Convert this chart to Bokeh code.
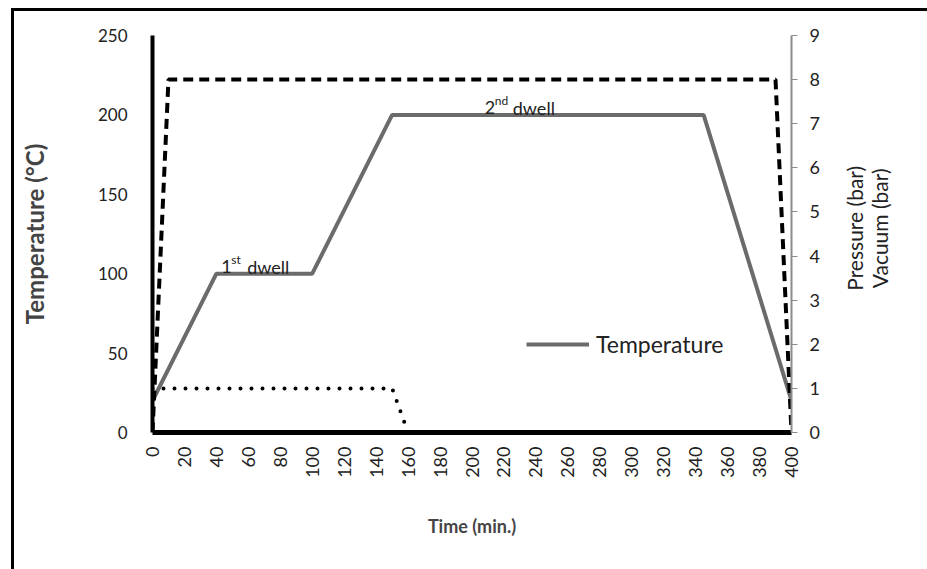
import math
from bokeh.plotting import figure
from bokeh.layouts import row
from bokeh.models import (Range1d, LinearAxis, FixedTicker, Legend, LegendItem, Label)
from bokeh.core.properties import value
from bokeh.embed import file_html
from bokeh.resources import INLINE

# Cure cycle profile
temp_time = [0, 40, 100, 150, 345, 400]
temp_c = [20, 100, 100, 200, 200, 20]

pressure_time = [0, 10, 390, 400]
pressure_bar = [0, 8, 8, 0]

vacuum_time = [0, 150, 160]
vacuum_bar = [1, 1, 0]

x_ticks = list(range(0, 401, 20))
temp_ticks = [0, 50, 100, 150, 200, 250]
bar_ticks = list(range(0, 10))

right_titles = ["Pressure (bar)", "Vacuum (bar)"]

FONT = "Lato"
TXT = "#222222"
H = 558
SIDE_W = 92

p = figure(width=821, height=H, output_backend="svg", toolbar_location=None,
           x_range=Range1d(0, 400), y_range=Range1d(0, 250),
           min_border_left=138, min_border_right=44, min_border_top=24, min_border_bottom=137)
p.outline_line_color = None
p.grid.grid_line_color = None
p.background_fill_color = "white"
p.border_fill_color = "white"

p.extra_y_ranges = {"bar": Range1d(0, 9)}

# Bottom axis: time
xa = p.xaxis[0]
xa.ticker = FixedTicker(ticks=x_ticks)
xa.major_label_orientation = math.pi / 2
xa.axis_line_color = "black"
xa.axis_line_width = 5
xa.major_tick_line_color = None
xa.minor_tick_line_color = None
xa.major_label_text_font = FONT
xa.major_label_text_font_size = "18px"
xa.major_label_text_color = TXT
xa.major_label_standoff = 8
xa.axis_label = "Time (min.)"
xa.axis_label_text_font = FONT
xa.axis_label_text_font_style = "bold"
xa.axis_label_text_font_size = "18px"
xa.axis_label_standoff = 34

# Left axis: temperature
ya = p.yaxis[0]
ya.ticker = FixedTicker(ticks=temp_ticks)
ya.axis_line_color = "black"
ya.axis_line_width = 4
ya.major_tick_line_color = None
ya.minor_tick_line_color = None
ya.major_label_text_font = FONT
ya.major_label_text_font_size = "17px"
ya.major_label_text_color = TXT
ya.major_label_standoff = 19
ya.axis_label = "Temperature (°C)"
ya.axis_label_text_font = FONT
ya.axis_label_text_font_style = "bold"
ya.axis_label_text_font_size = "24px"
ya.axis_label_standoff = 46

# Right axis: pressure / vacuum
ra = LinearAxis(y_range_name="bar", ticker=FixedTicker(ticks=bar_ticks))
ra.axis_line_color = "#8c8c8c"
ra.axis_line_width = 2
ra.major_tick_line_color = "#8c8c8c"
ra.major_tick_line_width = 1
ra.major_tick_in = 0
ra.major_tick_out = 6
ra.minor_tick_line_color = None
ra.major_label_text_font = FONT
ra.major_label_text_font_size = "18px"
ra.major_label_text_color = TXT
ra.major_label_standoff = 12
p.add_layout(ra, "right")

# Series
temp_r = p.line(temp_time, temp_c, line_color="#6b6b6b", line_width=4)
p.line(pressure_time, pressure_bar, y_range_name="bar", line_color="black",
       line_width=4, line_dash="10 6")
p.line(vacuum_time, vacuum_bar, y_range_name="bar", line_color="black",
       line_width=4, line_dash="0 11", line_cap="round")

# Legend (temperature only)
legend = Legend(items=[LegendItem(label="Temperature", renderers=[temp_r])],
                location=(374, 74), orientation="vertical",
                glyph_width=63, glyph_height=24, label_standoff=7,
                padding=0, margin=0, border_line_color=None,
                background_fill_alpha=0,
                label_text_font=FONT, label_text_font_size="23px",
                label_text_color=TXT)
p.add_layout(legend)


def dwell_label(x, y, num, sup, sup_w):
    p.add_layout(Label(x=x, y=y, y_offset=7, text=num, text_font=FONT,
                       text_font_size="18px", text_baseline="alphabetic",
                       text_color=TXT))
    p.add_layout(Label(x=x, y=y, x_offset=10, y_offset=14, text=sup, text_font=FONT,
                       text_font_size="12px", text_baseline="alphabetic",
                       text_color=TXT))
    p.add_layout(Label(x=x, y=y, x_offset=10 + sup_w + 5, y_offset=7,
                       text="dwell", text_font=FONT, text_font_size="18px",
                       text_baseline="alphabetic", text_color=TXT))


dwell_label(43, temp_c[1], "1", "st", 11)
dwell_label(208, temp_c[3], "2", "nd", 13)

# Narrow strip on the right carrying the two rotated axis titles
side = figure(width=SIDE_W, height=H, output_backend="svg", toolbar_location=None,
              x_range=Range1d(0, SIDE_W), y_range=Range1d(0, H),
              min_border=0, x_axis_type=None, y_axis_type=None)
side.outline_line_color = None
side.grid.grid_line_color = None
side.border_fill_color = "white"
side.text(x=[19, 44], y=[H - 271, H - 271], text=right_titles, angle=math.pi / 2,
          text_align="center", text_baseline="middle", text_font=value(FONT),
          text_font_size="21px", text_color=TXT)

layout = row(p, side, spacing=0)
layout.styles = {"margin-left": "11px", "margin-top": "8px",
                 "border-left": "3px solid black", "border-top": "3px solid black"}

open("out.html", "w").write(file_html(layout, INLINE))
